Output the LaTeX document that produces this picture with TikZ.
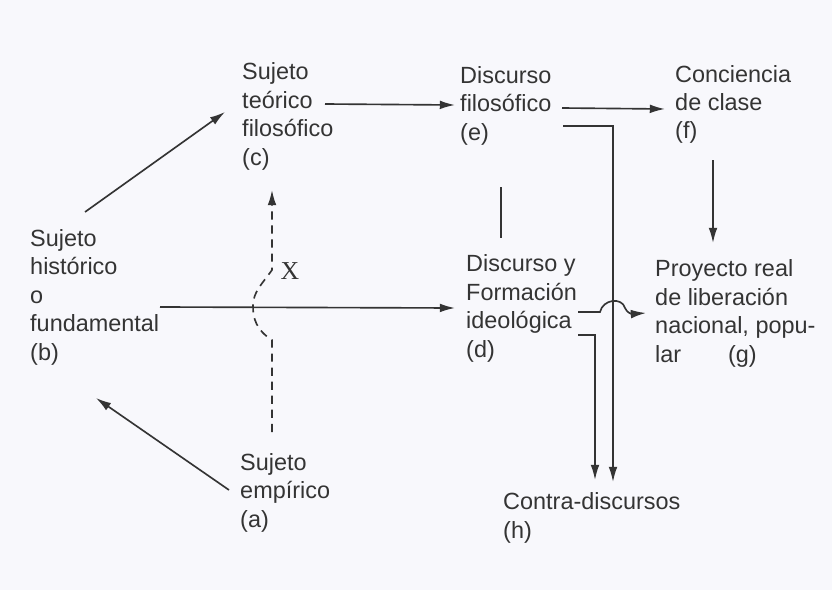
\documentclass[tikz,border=0pt]{standalone}
\usepackage{fontspec}
\setmainfont{Liberation Sans}
\newfontfamily\xfont{Liberation Serif}
\usetikzlibrary{arrows.meta,calc}
\definecolor{ink}{RGB}{52,52,52}
\definecolor{paper}{RGB}{248,248,252}
\tikzset{
	lbl/.style={anchor=base west, align=left, inner sep=0pt, text=ink, font=\fontsize{20}{24.2}\selectfont},
	flow/.style={draw=ink, line width=1.4pt, -{Latex[length=13pt,width=7.5pt]}},
	plain/.style={draw=ink, line width=1.4pt},
	hidden/.style={plain, dash pattern=on 7pt off 5pt, -{Latex[length=13pt,width=7.5pt]}},
}

\begin{document}
\begin{tikzpicture}[x=0.03cm, y=-0.03cm]
	\fill[paper] (0,0) rectangle (832,590);
	\useasboundingbox (0,0) rectangle (832,590);
	\node[lbl] (c) at (242,165) {Sujeto\\teórico\\filosófico\\(c)};
	\node[lbl] (e) at (460,140) {Discurso\\filosófico\\(e)};
	\node[lbl] (f) at (675,139) {Conciencia\\de clase\\(f)};
	\node[lbl] (b) at (30,360) {Sujeto\\histórico\\o\\fundamental\\(b)};
	\node[lbl] (d) at (466,357) {Discurso y\\Formación\\ideológica\\(d)};
	\node[lbl] (g) at (655,362) {Proyecto real\\de liberación\\nacional, popu-\\lar\hspace{40pt}(g)};
	\node[lbl] (a) at (240,527) {Sujeto\\empírico\\(a)};
	\node[lbl] (h) at (503,538) {Contra-discursos\\(h)};
	\node[text=ink, font=\xfont\fontsize{22}{24}\selectfont, inner sep=0pt] (x) at (290,271) {X};
	\coordinate (b1) at (85,212);   \coordinate (c1) at (225,112);
	\coordinate (a1) at (229,490);  \coordinate (b2) at (96,398);
	\coordinate (c2) at (325,104);  \coordinate (e1) at (455,105);
	\coordinate (e2) at (562,108);  \coordinate (f1) at (665,109);
	\coordinate (f2) at (713,160);  \coordinate (g1) at (713,243);
	\coordinate (b3) at (160,307);  \coordinate (d1) at (455,308);
	\coordinate (a2) at (272,432);  \coordinate (c3) at (272,190);
	\coordinate (e3) at (563,126);  \coordinate (h1) at (613,482);
	\coordinate (d2) at (578,335);  \coordinate (h2) at (595,480);
	\coordinate (d3) at (578,312);  \coordinate (g2) at (646,313);
	\coordinate (e4) at (501,187);  \coordinate (d4) at (501,238);
	\draw[flow] (b1) -- (c1);
	\draw[flow] (a1) -- (b2);
	\draw[flow] (c2) -- (e1);
	\draw[flow] (e2) -- (f1);
	\draw[flow] (f2) -- (g1);
	\draw[flow] (b3) -- (d1);
	\draw[plain] (e4) -- (d4);
	\draw[hidden] (a2) -- (272,340) .. controls (256,330) and (253,318) .. (253,306)
		.. controls (253,292) and (262,284) .. (272,270) -- (c3);
	\draw[flow] (e3) -| (h1);
	\draw[flow] (d2) -| (h2);
	\draw[flow] (d3) -- (600,312) .. controls (603,299) and (622,297) .. (625,308)
		.. controls (627,313) and (632,314) .. (g2);
\end{tikzpicture}
\end{document}
